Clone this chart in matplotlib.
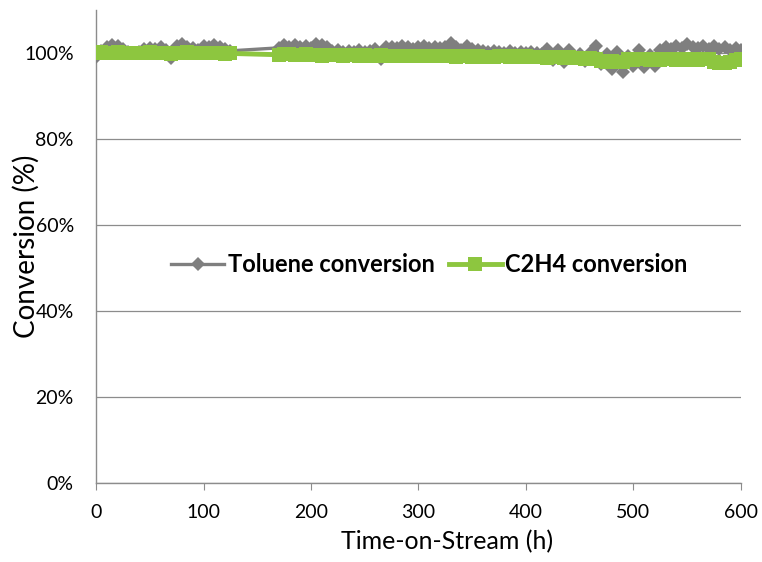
import numpy as np
import matplotlib
matplotlib.use("Agg")
import matplotlib.pyplot as plt
from matplotlib.ticker import PercentFormatter

''' DATA '''
# time-on-stream (h), two runs with a break between ~125 h and ~170 h
time_h = np.concatenate([np.arange(0, 130, 5), np.arange(170, 605, 5)])

# toluene conversion (%)
toluene = [
    99.0, 100.5, 101.5, 101.8, 101.6, 101.0, 100.2, 100.0, 100.3, 101.0,
    101.2, 100.9, 101.3, 100.8, 98.8, 101.6, 102.0, 101.5, 101.2, 100.6,
    101.6, 101.4, 101.8, 101.3, 100.9, 100.5,
    # 170 h ->
    101.2, 101.8, 101.5, 101.9, 101.4, 101.7, 101.2, 102.1, 101.8, 101.3,
    100.4, 100.6, 100.2, 100.5, 100.3, 100.6, 100.2, 100.4, 101.0, 98.6,
    101.3, 101.5, 101.1, 101.6, 101.4, 101.0, 101.3, 101.6, 101.2, 101.5,
    101.2, 101.4, 102.3, 101.3, 100.8, 101.7, 101.0, 100.6, 100.4, 100.2,
    100.5, 100.3, 100.1, 100.4, 100.0, 100.3, 99.9, 100.2, 100.0, 99.8,
    100.9, 98.4, 100.8, 98.0, 100.6, 98.9, 99.8, 98.2, 100.1, 101.6,
    97.5, 99.8, 96.3, 100.3, 95.5, 99.4, 97.0, 100.6, 96.8, 99.6,
    96.9, 100.8, 101.4, 101.0, 101.6, 101.2, 102.1, 101.4, 101.2, 101.6,
    101.0, 101.6, 100.9, 101.3, 100.8, 101.2, 100.7,
]

# C2H4 conversion (%)
c2h4 = [
    100.1, 100.2, 100.0, 100.1, 100.2, 100.0, 99.9, 100.0, 100.1, 100.0,
    100.2, 100.1, 99.9, 100.0, 99.8, 100.0, 100.1, 100.2, 100.0, 99.9,
    100.0, 100.1, 99.9, 100.0, 99.8, 99.9,
    # 170 h ->
    99.6, 99.8, 99.7, 99.6, 99.5, 99.7, 99.6, 99.5, 99.4, 99.6,
    99.5, 99.6, 99.4, 99.5, 99.6, 99.4, 99.5, 99.3, 99.4, 99.5,
    99.3, 99.4, 99.2, 99.3, 99.4, 99.2, 99.3, 99.4, 99.2, 99.3,
    99.3, 99.2, 99.3, 99.1, 99.2, 99.3, 99.1, 99.2, 99.0, 99.1,
    99.1, 99.3, 99.2, 99.0, 99.2, 99.1, 99.2, 99.0, 99.1, 99.0,
    98.9, 99.1, 99.0, 98.8, 99.0, 98.9, 98.8, 98.7, 98.9, 98.6,
    98.1, 97.9, 98.2, 97.8, 98.0, 98.6, 98.4, 98.7, 98.5, 98.3,
    98.6, 98.4, 98.5, 98.7, 98.4, 98.6, 98.3, 98.5, 98.4, 98.6,
    98.5, 97.8, 97.6, 97.7, 97.9, 98.3, 98.5,
]

series_labels = ["Toluene conversion", "C2H4 conversion"]
x_ticks = [0, 100, 200, 300, 400, 500, 600]
y_ticks = [0, 20, 40, 60, 80, 100]

''' PLOT '''
plt.rcParams['font.family'] = ['Lato', 'DejaVu Sans']
axis_grey = '#8c8c8c'

fig = plt.figure(figsize=(7.62, 5.62), dpi=100)
ax = fig.add_axes([0.126, 0.1406, 0.8464, 0.8416])

ax.plot(time_h, toluene, color='#7f7f7f', lw=2.4, marker='D',
        markersize=7.5, markeredgewidth=0, label=series_labels[0], zorder=3)
ax.plot(time_h, c2h4, color='#8dc63f', lw=3.5, marker='s',
        markersize=10, markeredgewidth=0, label=series_labels[1], zorder=4)

ax.set_xlim(0, 600)
ax.set_ylim(0, 110)
ax.set_xticks(x_ticks)
ax.set_yticks(y_ticks)
ax.yaxis.set_major_formatter(PercentFormatter(decimals=0))
ax.grid(axis='y', color=axis_grey, lw=0.9)
ax.set_axisbelow(True)

for side in ['top', 'right']:
    ax.spines[side].set_visible(False)
for side in ['left', 'bottom']:
    ax.spines[side].set_color(axis_grey)
    ax.spines[side].set_linewidth(1.0)

ax.tick_params(axis='x', direction='out', length=5, color=axis_grey,
               labelsize=14, pad=10)
ax.tick_params(axis='y', length=0, labelsize=14, pad=16)

ax.set_xlabel("Time-on-Stream (h)", fontsize=18)
ax.xaxis.set_label_coords(0.544, -0.1)
ax.set_ylabel("Conversion (%)", fontsize=20)
ax.yaxis.set_label_coords(-0.087, 0.5)

# legend sits inside the plot, no frame
leg = ax.legend(loc='center', bbox_to_anchor=(0.517, 0.461), ncol=2,
                frameon=False, handlelength=2.25, columnspacing=0.6,
                handletextpad=0.15, prop={'weight': 'bold', 'size': 17})

fig.savefig("out.png", dpi=100)
